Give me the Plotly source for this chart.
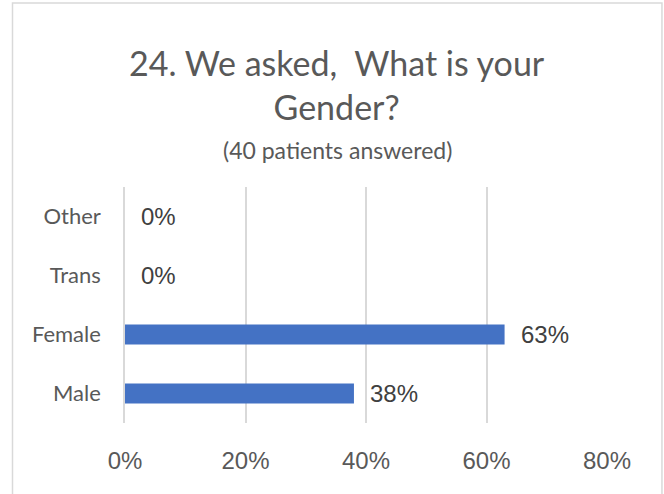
import plotly.graph_objects as go

categories = ["Male", "Female", "Trans", "Other"]
values = [0.38, 0.63, 0.0, 0.0]
labels = ["38%", "63%", "0%", "0%"]
tick_vals = [0, 0.2, 0.4, 0.6, 0.8]
tick_text = ["0%", "20%", "40%", "60%", "80%"]

TXT = "#595959"
fig = go.Figure()
fig.add_trace(go.Bar(
    y=categories, x=values, orientation="h",
    marker=dict(color="#4472C4", line=dict(width=0)),
    width=0.34, hoverinfo="skip",
))

data_labels = [
    dict(text=t, x=v, y=c, xref="x", yref="y", xanchor="left", yanchor="middle",
         xshift=14, showarrow=False,
         font=dict(family="Liberation Sans, Arial", size=24, color="#404040"))
    for c, v, t in zip(categories, values, labels)
]

fig.update_layout(
    width=664, height=494,
    margin=dict(l=125, r=57, t=187, b=71, autoexpand=False),
    paper_bgcolor="white", plot_bgcolor="white",
    showlegend=False,
    xaxis=dict(range=[0, 0.8], tickvals=tick_vals, ticktext=tick_text,
               showgrid=True, gridcolor="#d9d9d9", gridwidth=1.5,
               zeroline=False, showline=False, ticks="",
               tickfont=dict(family="Liberation Sans, Arial", size=24, color=TXT),
               ticklabelstandoff=21, fixedrange=True, automargin=False),
    yaxis=dict(categoryorder="array", categoryarray=categories,
               showgrid=False, zeroline=False, showline=True,
               linecolor="#d9d9d9", linewidth=1.5, ticks="",
               tickfont=dict(family="Lato, Calibri", size=22, color=TXT),
               ticklabelstandoff=18, fixedrange=True, automargin=False),
    shapes=[dict(type="rect", xref="paper", yref="paper",
                 x0=-0.2334, x1=1.114, y0=-0.6, y1=1.78,
                 line=dict(color="#d9d9d9", width=1.5), fillcolor="rgba(0,0,0,0)",
                 layer="below")],
    annotations=data_labels + [
        dict(text="24. We asked,\u00a0 What is your<br>Gender?", xref="paper", yref="paper",
             x=0.44, y=1.625, xanchor="center", yanchor="top", showarrow=False,
             font=dict(family="Lato, Calibri", size=34, color=TXT), align="center"),
        dict(text="(40 patients answered)", xref="paper", yref="paper",
             x=0.44, y=1.157, xanchor="center", yanchor="middle", showarrow=False,
             font=dict(family="Lato, Calibri", size=23, color=TXT)),
    ],
)

fig.write_html("out.html", config={"displayModeBar": False},
               post_script="document.body.style.margin='0';document.body.style.overflow='hidden';")
